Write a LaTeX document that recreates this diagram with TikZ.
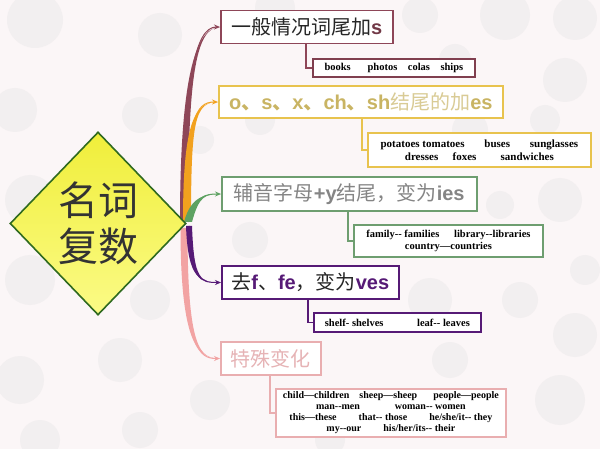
\documentclass[tikz,border=0pt]{standalone}
\usepackage{fontspec}
\setmainfont{Liberation Serif}
\newfontfamily\exfont{Liberation Serif}
\newfontfamily\cjk{Noto Sans CJK SC}
\newfontfamily\lsans{Liberation Sans}
\usetikzlibrary{calc,positioning,shapes.geometric,arrows.meta}

\definecolor{paper}{HTML}{FBF6F7}
\definecolor{bubble}{HTML}{E4E2E3}
\definecolor{maroon}{HTML}{8E4658}
\definecolor{gold}{HTML}{E8C34E}
\definecolor{goldtext}{HTML}{C9B463}
\definecolor{goldpale}{HTML}{D9CB95}
\definecolor{orangebr}{HTML}{F2A11E}
\definecolor{leaf}{HTML}{6E9E70}
\definecolor{leafbr}{HTML}{5EA262}
\definecolor{greytext}{HTML}{858585}
\definecolor{plum}{HTML}{561A76}
\definecolor{rose}{HTML}{E9AEB0}
\definecolor{rosetext}{HTML}{E6B3B5}
\definecolor{rosebr}{HTML}{F2A3A3}
\definecolor{lemon}{HTML}{F0EE3A}
\definecolor{lemonlight}{HTML}{FBFB86}
\definecolor{pine}{HTML}{2F6A1F}

% one tapered branch out of the diamond
\newcommand{\branch}[6]{%
  \fill[#1] ($#2+(-#6,0)$) .. controls ($#3+(-#6,0)$) and #4 .. #5
    .. controls #4 and ($#3+(#6,0)$) .. ($#2+(#6,0)$) -- cycle;
  \draw[#1, line width=1pt, -{Stealth[length=6pt,width=5pt]}] #2 .. controls #3 and #4 .. #5;}

\tikzset{
  rulebox/.style={draw=#1, line width=1.6pt, fill=white, anchor=west, inner sep=0pt,
    font=\fontsize{20}{24}\selectfont},
  wordbox/.style={draw=#1, line width=1.8pt, fill=white, anchor=west, inner sep=0pt,
    align=center, font=\exfont\fontsize{10.5}{12}\selectfont\bfseries},
  hook/.style={draw=#1, line width=1.3pt}
}

\begin{document}
\begin{tikzpicture}[x=1pt,y=-1pt]
  \useasboundingbox (0,0) rectangle (600,449);
  \fill[paper] (0,0) rectangle (600,449);
  \foreach \x/\y/\r in {35/20/28,160/35/22,275/8/20,420/15/18,505/15/25,575/18/22,
      455/60/16,565/80/22,15/110/22,140/115/18,260/120/15,470/130/18,545/120/15,
      30/200/25,200/140/14,560/200/22,500/205/14,585/270/15,30/280/25,150/300/20,
      250/240/18,430/300/22,520/300/18,575/335/22,20/380/24,120/360/22,210/400/20,
      560/400/25,40/440/20,140/430/18,330/440/15,450/360/18}
    \fill[bubble, opacity=0.35] (\x,\y) circle (\r);

  % rules
  \node[rulebox=maroon, minimum width=172, minimum height=33] (b1) at (220,27)
    {{\cjk\color{black!85}一般情况词尾加}{\lsans\bfseries\color{maroon!80!black}s}};
  \node[rulebox=gold, minimum width=284, minimum height=32] (b2) at (218,102)
    {{\lsans\bfseries\color{goldtext}o{\cjk 、}s{\cjk 、}x{\cjk 、}ch{\cjk 、}sh}{\cjk\color{goldpale}结尾的加}{\lsans\bfseries\color{goldtext}es}};
  \node[rulebox=leaf, minimum width=255, minimum height=34] (b3) at (221,194)
    {\color{greytext}{\cjk 辅音字母}{\lsans\bfseries +y}{\cjk 结尾，变为}{\lsans\bfseries ies}};
  \node[rulebox=plum, minimum width=177, minimum height=33] (b4) at (221,282.5)
    {{\cjk\color{black!85}去}{\lsans\bfseries\color{plum}f}{\cjk\color{black!85}、}{\lsans\bfseries\color{plum}fe}{\cjk\color{black!85}，变为}{\lsans\bfseries\color{plum}ves}};
  \node[rulebox=rose, minimum width=100, minimum height=33] (b5) at (220,358.5)
    {\cjk\color{rosetext}特殊变化};

  % examples
  \node[wordbox=maroon!90!black, minimum width=162, minimum height=18] (s1) at (312,68)
    {books\hspace{1.6em}photos\hspace{1em}colas\hspace{1em}ships};
  \node[wordbox=gold, minimum width=223, minimum height=34,
        font=\exfont\fontsize{11}{13}\selectfont\bfseries] (s2) at (367,150)
    {potatoes tomatoes\hspace{1.8em}buses\hspace{1.8em}sunglasses\\
     dresses\hspace{1.3em}foxes\hspace{2.2em}sandwiches};
  \node[wordbox=leaf, minimum width=189, minimum height=32] (s3) at (353,241)
    {family-- families\hspace{1.4em}library--libraries\\country—countries};
  \node[wordbox=plum, minimum width=167, minimum height=19] (s4) at (313,322.5)
    {shelf- shelves\hspace{3.2em}leaf-- leaves};
  \node[wordbox=rose, minimum width=230, minimum height=48,
        font=\exfont\fontsize{10}{11}\selectfont\bfseries] (s5) at (275,413)
    {child—children\hspace{1em}sheep—sheep\hspace{1.6em}people—people\\
     man--men\hspace{3.5em}woman-- women\\
     this—these\hspace{2.2em}that-- those\hspace{2.2em}he/she/it-- they\\
     my--our\hspace{2.2em}his/her/its-- their};

  \coordinate (k1) at (306,0);
  \coordinate (k2) at (362,0);
  \coordinate (k3) at (348,0);
  \coordinate (k4) at (308,0);
  \coordinate (k5) at (270,0);
  \draw[hook=maroon] (b1.south -| k1) |- (s1.west);
  \draw[hook=gold] (b2.south -| k2) |- (s2.west);
  \draw[hook=leaf] (b3.south -| k3) |- (s3.west);
  \draw[hook=plum] (b4.south -| k4) |- (s4.west);
  \draw[hook=rose] (b5.south -| k5) |- (s5.west);

  % branches
  \branch{rosebr}{(184,228)}{(184,350)}{(200,358.5)}{(b5.west)}{3.5}
  \branch{maroon}{(184,222)}{(184,80)}{(195,27)}{(b1.west)}{4}
  \branch{orangebr}{(187,222)}{(187,120)}{(195,102)}{(b2.west)}{4}
  \branch{plum}{(189,226)}{(191,280)}{(200,282.5)}{(b4.west)}{3}
  \branch{leafbr}{(188,222)}{(195,196)}{(205,194)}{(b3.west)}{4}

  % centre
  \node[diamond, draw=pine, line width=1.6pt, top color=lemon, bottom color=lemonlight,
        minimum width=176, minimum height=183, inner sep=0pt] (hub) at (98,223.5) {};
  \node[align=center, font=\cjk\fontsize{40}{46}\selectfont, text=black!80] at (hub) {名词\\复数};
\end{tikzpicture}
\end{document}
